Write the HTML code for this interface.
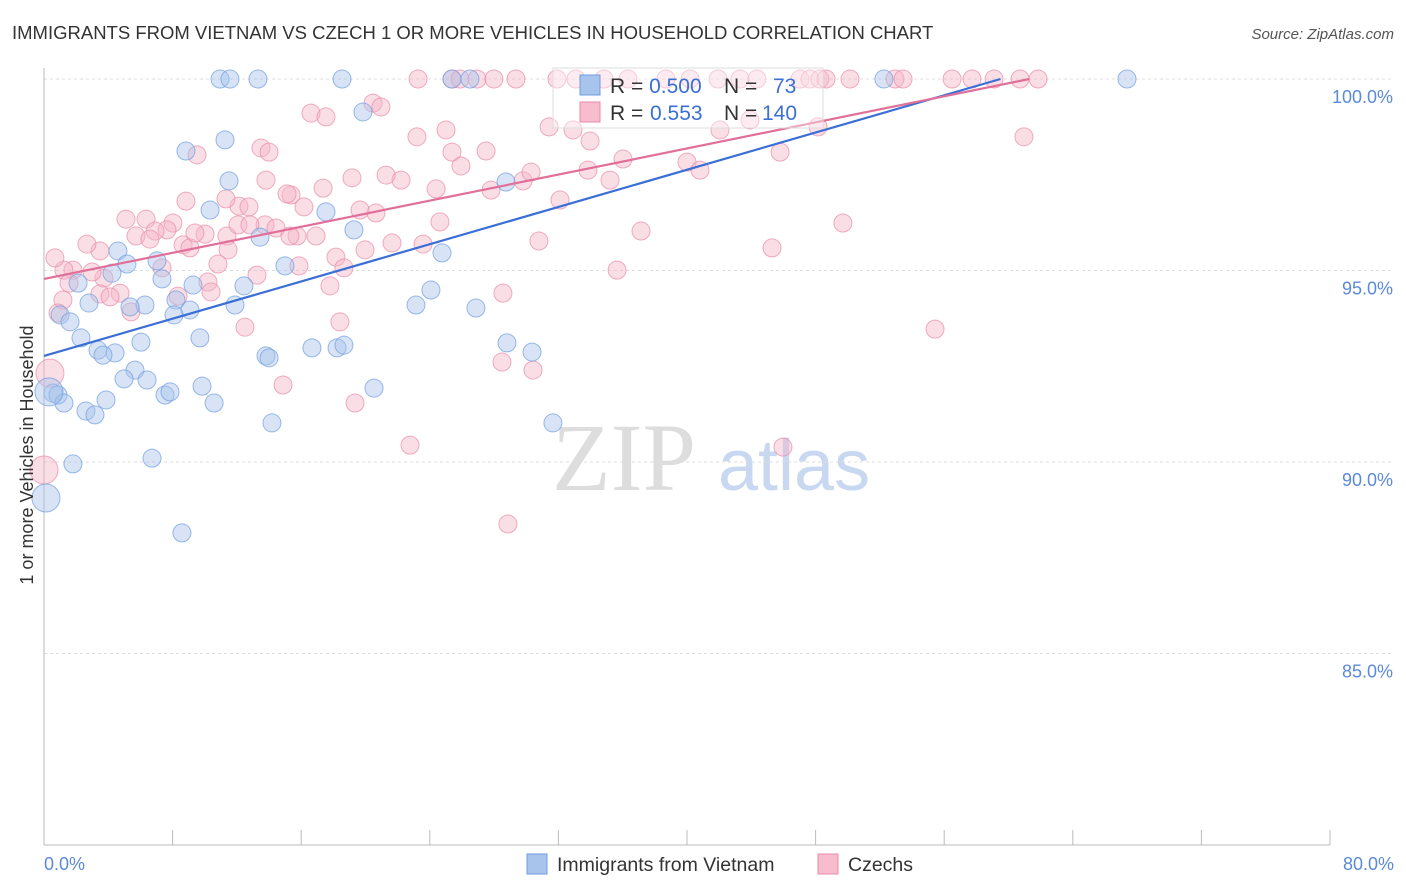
<!DOCTYPE html>
<html><head><meta charset="utf-8">
<style>
body{margin:0;background:#fff;font-family:"Liberation Sans",sans-serif;}
svg{display:block}
</style></head>
<body>
<svg id="chart" width="1406" height="892" xmlns="http://www.w3.org/2000/svg">
<text x="12" y="39" font-size="18.5" fill="#333" font-family="Liberation Sans, sans-serif">IMMIGRANTS FROM VIETNAM VS CZECH 1 OR MORE VEHICLES IN HOUSEHOLD CORRELATION CHART</text>
<text x="1394" y="39" font-size="15" fill="#555" font-style="italic" text-anchor="end">Source: ZipAtlas.com</text>
<g>
<text x="552" y="490" font-size="96" fill="#ddd" font-family="Liberation Serif, serif">ZIP</text>
<text x="718" y="490" font-size="72" fill="#c8d8f0">atlas</text>
</g>
<g id="grid"></g>
<g id="axes"></g>
<g id="pts"></g>
<g id="trend"></g>
<text transform="translate(33,455) rotate(-90)" font-size="18" fill="#333" text-anchor="middle">1 or more Vehicles in Household</text>
<g>
<rect x="553" y="68" width="270" height="60" fill="#fff" fill-opacity="0.4" stroke="#ddd"/>
<rect x="580" y="75" width="20" height="20" fill="#a9c4ec" stroke="#6f9de0"/>
<rect x="580" y="102" width="20" height="20" fill="#f7bccd" stroke="#e98aa8"/>
<text x="610" y="93" font-size="21" fill="#333">R = <tspan fill="#3b6fd6">0.500</tspan>  <tspan x="724">N =</tspan> <tspan x="773" fill="#3b6fd6">73</tspan></text>
<text x="610" y="120" font-size="21" fill="#333">R = <tspan x="650" fill="#3b6fd6">0.553</tspan><tspan x="724">N =</tspan> <tspan x="762" fill="#3b6fd6">140</tspan></text>
</g>
<g>
<rect x="527" y="854" width="20" height="20" fill="#a9c4ec" stroke="#6f9de0"/>
<text x="557" y="871" font-size="19.5" fill="#333">Immigrants from Vietnam</text>
<rect x="818" y="854" width="20" height="20" fill="#f7bccd" stroke="#e98aa8"/>
<text x="848" y="871" font-size="19.5" fill="#333">Czechs</text>
</g>
</svg>
<script>
const xTicks=[0,8,16,24,32,40,48,56,64,72,80];
const yTicks=[85,90,95,100];
const yTickLabels=["85.0%","90.0%","95.0%","100.0%"];
const blueX=[10.95,11.57,13.31,18.54,25.38,26.5,52.25,67.37,11.26,8.83,19.84,11.51,10.33,17.54,19.28,13.44,4.60,5.16,7.03,4.23,2.12,14.99,12.44,9.27,7.34,28.74,24.76,24.07,23.14,26.87,11.88,6.28,5.35,2.80,1.00,1.62,8.21,9.08,8.09,2.30,6.03,9.70,3.36,4.42,3.67,13.81,14.0,16.67,18.23,18.66,28.80,30.36,5.66,4.98,6.41,9.83,7.53,7.84,20.53,0.56,0.87,1.24,3.86,10.58,2.61,3.17,14.18,31.66,6.72,1.80,8.58,0.12,0.31];
const blueY=[100,100,100,100,100,100,100,100,98.41,98.12,99.14,97.34,96.58,96.53,96.06,95.87,95.51,95.17,95.25,94.93,94.67,95.12,94.60,94.62,94.78,97.31,95.46,94.49,94.10,94.02,94.10,94.10,94.05,94.15,93.84,93.66,94.23,93.97,93.84,93.24,93.13,93.24,92.92,92.85,92.79,92.77,92.72,92.98,92.98,93.05,93.11,92.87,92.40,92.17,92.14,91.98,91.75,91.83,91.93,91.80,91.75,91.54,91.62,91.54,91.33,91.23,91.02,91.02,90.10,89.95,88.15,89.06,91.83];
const blueBig=[71,72];
const pinkX=[23.27,25.38,25.88,26.94,27.99,29.36,31.91,33.09,34.84,36.33,38.69,40.19,41.93,43.30,44.35,47.03,47.65,48.27,48.65,50.14,52.94,53.44,56.49,57.73,59.10,60.72,61.84,20.47,20.96,16.61,17.54,48.15,60.96,25.01,23.20,31.42,32.91,33.97,13.50,14.0,9.52,25.38,27.50,25.94,36.02,40.0,45.79,33.84,22.21,21.28,19.16,17.36,13.81,12.13,12.75,15.37,15.12,16.17,20.65,19.66,24.39,27.81,29.80,30.30,32.10,11.32,8.83,5.10,6.35,8.02,7.65,6.91,5.72,6.59,8.65,10.02,11.38,12.07,13.75,14.43,15.74,16.92,11.45,9.08,3.48,2.67,3.73,1.80,1.24,1.56,2.99,7.34,10.82,13.25,15.86,18.16,18.66,19.97,21.65,23.58,24.63,30.79,37.14,49.70,45.29,35.65,4.73,3.48,4.11,8.34,10.20,10.39,5.41,1.18,0.87,17.79,28.55,12.50,18.41,55.43,14.87,19.35,28.49,30.42,22.77,45.97,28.86,0.37,0.0,0.68,12.81,15.30,9.39,35.21,40.81,43.92,42.05];
const pinkY=[100,100,100,100,100,100,100,100,100,100,100,100,100,100,100,100,100,100,100,100,100,100,100,100,100,100,100,99.37,99.27,99.11,99.01,98.75,98.49,98.67,98.49,98.75,98.67,98.38,98.20,98.09,98.02,98.09,98.12,97.73,97.91,97.83,98.09,97.62,97.36,97.49,97.42,97.15,97.36,96.68,96.66,96.97,97.0,96.66,96.50,96.58,97.13,97.10,97.34,97.57,96.84,96.87,96.81,96.34,96.34,96.24,96.06,96.03,95.90,95.82,95.67,95.95,95.90,96.19,96.19,96.11,95.90,95.90,95.54,95.59,95.51,95.69,94.80,95.01,95.01,94.67,94.96,95.07,95.17,94.88,95.12,95.35,95.07,95.54,95.72,95.69,96.27,95.77,96.03,96.24,95.59,95.01,94.41,94.39,94.31,94.33,94.70,94.44,93.92,94.23,93.89,94.60,94.41,93.52,93.66,93.47,92.01,91.54,92.61,92.40,90.44,90.39,88.38,92.32,89.79,95.33,96.19,95.90,95.98,97.36,97.62,98.93,98.67];
const pinkBig=[127,128];
const blueTrend=[[0,92.77],[59.5,100]];
const pinkTrend=[[0,94.78],[61.3,100.0]];

const NS="http://www.w3.org/2000/svg";
const X0=44,X1=1330,YTOP=79;
const sx=v=>X0+(v/80)*(X1-X0);
const sy=v=>YTOP+(100-v)*38.3;
function mk(tag,attrs,parent){const e=document.createElementNS(NS,tag);for(const k in attrs)e.setAttribute(k,attrs[k]);parent.appendChild(e);return e;}
const grid=document.getElementById('grid'),axes=document.getElementById('axes'),pts=document.getElementById('pts'),trend=document.getElementById('trend');
yTicks.forEach((t,i)=>{
 const l=mk('line',{x1:X0,x2:1394,y1:sy(t),y2:sy(t),stroke:'#ddd','stroke-dasharray':'3,3'},grid);
 
 
 const tx=mk('text',{x:1393,y:sy(t)+24,'font-size':18,fill:'#5b8ad8','text-anchor':'end'},axes);
 tx.textContent=yTickLabels[i];
 
 
});
const ax=mk('line',{x1:X0,x2:X1,y1:845,y2:845,stroke:'#bbb'},axes);


const ay=mk('line',{x1:X0,x2:X0,y1:68,y2:845,stroke:'#bbb'},axes);


xTicks.forEach(t=>{
 const l=mk('line',{x1:sx(t),x2:sx(t),y1:830,y2:845,stroke:'#bbb'},axes);
 
 
});
[[0,'0.0%','start',44],[80,'80.0%','end',1394]].forEach(d=>{
 const tx=mk('text',{x:d[3],y:870,'font-size':18,fill:'#5b8ad8','text-anchor':d[2]},axes);
 tx.textContent=d[1];
 
 
});
function drawSeries(xs,ys,big,fill,stroke,name){
 xs.forEach((x,i)=>{
  const r=big.includes(i)?14:9;
  const c=mk('circle',{cx:sx(x),cy:sy(ys[i]),r:r,fill:fill,'fill-opacity':0.45,stroke:stroke,'stroke-opacity':0.7,'stroke-width':1},pts);
  
  
 });
}
drawSeries(pinkX,pinkY,pinkBig,'#f4b6c8','#e98aa8','czech-point');
drawSeries(blueX,blueY,blueBig,'#a9c4ec','#6f9de0','vietnam-point');
const bl=mk('line',{x1:sx(blueTrend[0][0]),y1:sy(blueTrend[0][1]),x2:sx(blueTrend[1][0]),y2:sy(blueTrend[1][1]),stroke:'#3b6fd6','stroke-width':2.2},trend);


const pl=mk('line',{x1:sx(pinkTrend[0][0]),y1:sy(pinkTrend[0][1]),x2:sx(pinkTrend[1][0]),y2:sy(pinkTrend[1][1]),stroke:'#e0709a','stroke-width':2.2},trend);


</script>
</body></html>
